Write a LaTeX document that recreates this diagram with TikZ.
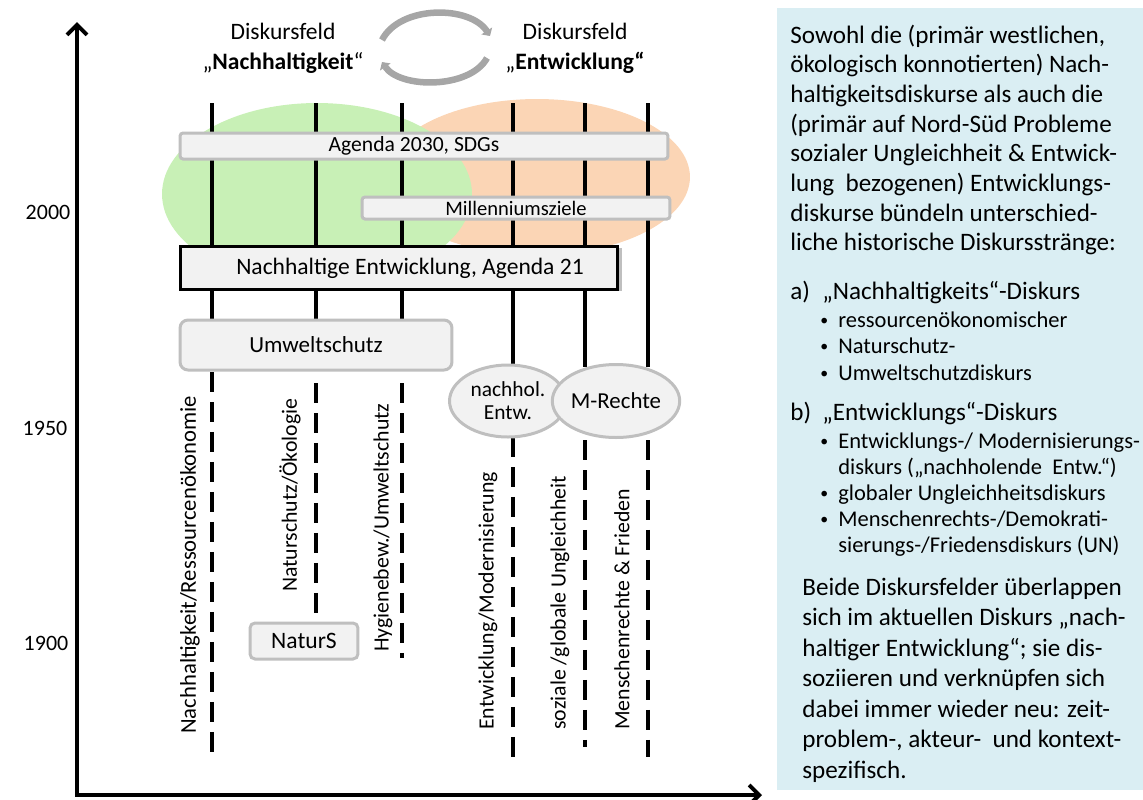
\documentclass[tikz,border=0pt]{standalone}
\usepackage{fontspec}
\setmainfont{Carlito}
\usepackage{tikz}
\usetikzlibrary{arrows.meta, shapes.geometric, shadows}
\definecolor{fieldgreen}{RGB}{200, 240, 182}
\definecolor{fieldorange}{RGB}{251, 213, 181}
\definecolor{boxfill}{RGB}{242, 242, 242}
\definecolor{boxborder}{RGB}{191, 191, 191}
\definecolor{cyclegray}{RGB}{166, 166, 166}
\definecolor{panelblue}{RGB}{218, 238, 243}
\newcommand{\bul}{\makebox[0.36cm][l]{\raisebox{0.15ex}{\fontsize{9pt}{9pt}\selectfont\textbullet}}}

\begin{document}
\begin{tikzpicture}[
    x=0.02cm, y=-0.02cm,
    axis/.style={line width=0.08cm, line join=miter, {Straight Barb[length=0.2cm,width=0.4cm]}-{Straight Barb[length=0.2cm,width=0.4cm]}},
    strand/.style={line width=0.08cm},
    faded/.style={strand, dash pattern=on 0.4cm off 0.2cm},
    era/.style={draw=boxborder, fill=boxfill, line width=0.06cm, rounded corners=0.06cm, inner sep=0pt},
    bubble/.style={ellipse, draw=boxborder, fill=boxfill, line width=0.06cm, inner sep=0pt, align=center},
    cycle/.style={draw=cyclegray, line width=0.13cm, -{Triangle[length=0.12cm,width=0.25cm]}},
    year/.style={font=\fontsize{12.5pt}{15pt}\selectfont},
    field/.style={align=center, font=\fontsize{13.4pt}{17pt}\selectfont},
    strandlabel/.style={rotate=90, anchor=west, inner sep=0pt, font=\fontsize{12.4pt}{14pt}\selectfont},
    paratext/.style={anchor=base west, inner sep=0pt, font=\fontsize{14.3pt}{17pt}\selectfont},
    listtext/.style={anchor=base west, inner sep=0pt, font=\fontsize{12.8pt}{15pt}\selectfont}
]
    \useasboundingbox (0,0) rectangle (1143,799);

    % Discourse fields
    \fill[fieldorange] (537,177) ellipse [x radius=3.06cm, y radius=1.56cm];
    \fill[fieldgreen] (317,194) ellipse [x radius=3.1cm, y radius=1.82cm];

    % Timeline strands
    \foreach \x in {212,316,402} \draw[strand] (\x,103) -- (\x,320);
    \foreach \x in {513,585,648} \draw[strand] (\x,103) -- (\x,367);
    \draw[faded] (212,372) -- (212,757);
    \draw[faded] (316,383) -- (316,617);
    \draw[faded] (402,383) -- (402,658);
    \draw[faded] (513,437) -- (513,757);
    \draw[faded] (585,440) -- (585,747);
    \draw[faded] (648,440) -- (648,757);

    % Axes and years
    \draw[axis] (77,22) -- (77,795) -- (762,795);
    \node[year] (y2000) at (48,212) {2000};
    \node[year] (y1950) at (45,428) {1950};
    \node[year] (y1900) at (46,643) {1900};

    % Field titles
    \node[field] (fieldN) at (283,48) {Diskursfeld\\„\textbf{Nachhaltigkeit}“};
    \node[field] (fieldE) at (575,48) {Diskursfeld\\„\textbf{Entwicklung“}};
    \coordinate (swapA) at (382,40);
    \coordinate (swapB) at (490,36);
    \coordinate (swapC) at (487,58);
    \coordinate (swapD) at (382,62);
    \draw[cycle] (swapA) .. controls (400,5) and (470,5) .. (swapB);
    \draw[cycle] (swapC) .. controls (470,89) and (400,89) .. (swapD);

    % Agendas and movements
    \node[era, minimum width=9.76cm, minimum height=0.52cm, font=\fontsize{12.3pt}{14pt}\selectfont] (agenda30) at (424,146) {Agenda 2030, SDGs\hspace*{0.4cm}};
    \node[era, minimum width=6.16cm, minimum height=0.44cm, font=\fontsize{11.7pt}{14pt}\selectfont] (mdg) at (516,208) {Millenniumsziele};
    \node[draw=black, fill=boxfill, line width=0.06cm, inner sep=0pt, minimum width=8.76cm, minimum height=0.86cm,
          general shadow={fill=boxborder, shadow xshift=0.08cm, shadow yshift=-0.03cm},
          font=\fontsize{13.4pt}{16pt}\selectfont] (agenda21) at (399,268) {\hspace*{0.44cm}Nachhaltige Entwicklung, Agenda 21};
    \node[era, rounded corners=0.16cm, minimum width=5.44cm, minimum height=1cm, font=\fontsize{13.1pt}{16pt}\selectfont] (umwelt) at (316,345) {Umweltschutz};
    \node[era, rounded corners=0.1cm, minimum width=2.16cm, minimum height=0.72cm, font=\fontsize{13.4pt}{16pt}\selectfont] (naturs) at (304,641) {NaturS};
    \node[bubble, minimum width=2.34cm, minimum height=1.44cm, font=\fontsize{12.2pt}{13pt}\selectfont] (nachhol) at (508,401) {nachhol.\\Entw.};
    \node[bubble, minimum width=2.54cm, minimum height=1.46cm, font=\fontsize{13pt}{15pt}\selectfont] (mrechte) at (616,401) {M-Rechte};

    % Strand labels
    \node[strandlabel, font=\fontsize{12.9pt}{14pt}\selectfont] (sRes) at (190,734) {Nachhaltigkeit/Ressourcenökonomie};
    \node[strandlabel] (sNat) at (290,592) {Naturschutz/Ökologie};
    \node[strandlabel] (sHyg) at (383,652) {Hygienebew./Umweltschutz};
    \node[strandlabel] (sMod) at (488,730) {Entwicklung/Modernisierung};
    \node[strandlabel] (sUng) at (560,730) {soziale /globale Ungleichheit};
    \node[strandlabel] (sMen) at (622,730) {Menschenrechte \& Frieden};

    % Explanation panel
    \fill[panelblue] (777,8) rectangle (1143,790);
    \foreach \txt [count=\i] in {{Sowohl die (primär westlichen,}, {ökologisch konnotierten) Nach-},
        {haltigkeitsdiskurse als auch die}, {(primär auf Nord-Süd Probleme},
        {sozialer Ungleichheit \& Entwick-}, {lung~ bezogenen) Entwicklungs-},
        {diskurse bündeln unterschied-}, {liche historische Diskursstränge:}}
        \node[paratext] (intro\i) at (790,{43+29.7*(\i-1)}) {\txt};
    \node[paratext] (headA) at (790,299) {\makebox[0.64cm][l]{a)}„Nachhaltigkeits“-Diskurs};
    \foreach \txt [count=\i] in {{\bul ressourcenökonomischer}, {\bul Naturschutz-}, {\bul Umweltschutzdiskurs}}
        \node[listtext] (itemA\i) at (820,{327+26.5*(\i-1)}) {\txt};
    \node[paratext] (headB) at (790,420) {\makebox[0.64cm][l]{b)}„Entwicklungs“-Diskurs};
    \foreach \txt [count=\i] in {{\bul Entwicklungs-/ Modernisierungs-}, {\hspace*{0.36cm}diskurs („nachholende~ Entw.“)},
        {\bul globaler Ungleichheitsdiskurs}, {\bul Menschenrechts-/Demokrati-},
        {\hspace*{0.36cm}sierungs-/Friedensdiskurs (UN)}}
        \node[listtext] (itemB\i) at (820,{448+26*(\i-1)}) {\txt};
    \foreach \txt [count=\i] in {{Beide Diskursfelder überlappen}, {sich im aktuellen Diskurs „nach-},
        {haltiger Entwicklung“; sie dis-}, {soziieren und verknüpfen sich},
        {dabei immer wieder neu: zeit-}, {problem-, akteur-~ und kontext-}, {spezifisch.}}
        \node[paratext] (outro\i) at (802,{595+30.5*(\i-1)}) {\txt};
\end{tikzpicture}
\end{document}
